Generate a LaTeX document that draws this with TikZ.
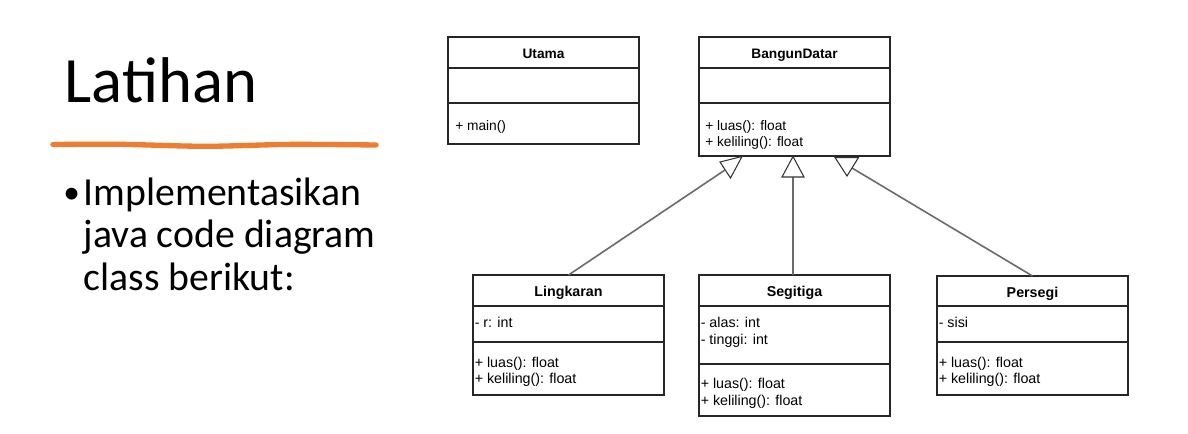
\documentclass[tikz,border=0pt]{standalone}
\usepackage{fontspec}
\setmainfont{Carlito}
\newfontfamily\umlfont{Liberation Sans}
\usetikzlibrary{calc}
\definecolor{officeorange}{HTML}{ED7D31}
\definecolor{edgegray}{HTML}{6B6B6B}
\begin{document}
\begin{tikzpicture}[x=0.75pt,y=-0.75pt,
  cbox/.style={draw=black!85, line width=0.8pt, fill=white, anchor=north west,
    minimum width=143.25pt, inner sep=0pt, outer sep=0pt},
  divider/.style={draw=black!85, line width=0.8pt},
  ttop/.style={font=\umlfont\bfseries\fontsize{10.3}{12}\selectfont, anchor=base, inner sep=0pt},
  tbot/.style={font=\umlfont\bfseries\fontsize{10.7}{12}\selectfont, anchor=base, inner sep=0pt},
  ltop/.style={font=\umlfont\fontsize{10.3}{12}\selectfont, anchor=base west, inner sep=0pt},
  lbot/.style={font=\umlfont\fontsize{10.7}{12}\selectfont, anchor=base west, inner sep=0pt},
  bodytext/.style={anchor=base west, inner sep=0pt, font=\fontsize{29.8}{34}\selectfont},
  gen/.style={draw=edgegray, line width=1.2pt},
  tri/.style={draw=black!80, line width=0.8pt, fill=white, line join=miter},
  orangeline/.style={draw=officeorange, line width=4pt, line cap=round}
]
\useasboundingbox (0,0) rectangle (1188,433);
\fill[white] (0,0) rectangle (1188,433);

% left side text
\node[anchor=base west, inner sep=0pt, font=\fontsize{48.5}{58}\selectfont] (title) at (64.5,102) {Latihan};
\draw[orangeline] plot[smooth] coordinates {(53,144.5) (120,144.3) (205,146.3) (290,144.4) (376,145)};
\node[anchor=base west, inner sep=0pt, font=\fontsize{25}{30}\selectfont] (bullet) at (63,203) {•};
\node[bodytext] (body1) at (83.5,205) {Implementasikan};
\node[bodytext] (body2) at (83.5,247) {java code diagram};
\node[bodytext] (body3) at (83.5,290) {class berikut:};

% class boxes
\node[cbox, minimum height=80.25pt] (utama) at (448,37) {};
\draw[divider] (448,68) -- (639,68);
\draw[divider] (448,103) -- (639,103);
\node[ttop] (utamaT) at (543.5,58) {Utama};
\node[ltop] (utamaM) at (455,130) {+ main()};

\node[cbox, minimum height=89.25pt] (bangun) at (699,37) {};
\draw[divider] (699,68) -- (890,68);
\draw[divider] (699,103) -- (890,103);
\node[ttop] (bangunT) at (794.5,58) {BangunDatar};
\node[ltop] (bangunM1) at (705,130.5) {+ luas(): float};
\node[ltop] (bangunM2) at (705,146) {+ keliling(): float};

\node[cbox, minimum height=90pt] (ling) at (473,275) {};
\draw[divider] (473,306) -- (664,306);
\draw[divider] (473,342) -- (664,342);
\node[tbot] (lingT) at (568.5,296) {Lingkaran};
\node[lbot] (lingA) at (474.5,327) {- r: int};
\node[lbot] (lingM1) at (474.5,367) {+ luas(): float};
\node[lbot] (lingM2) at (474.5,383.5) {+ keliling(): float};

\node[cbox, minimum height=105.75pt] (seg) at (699,275) {};
\draw[divider] (699,306) -- (890,306);
\draw[divider] (699,364) -- (890,364);
\node[tbot] (segT) at (794.5,296) {Segitiga};
\node[lbot] (segA1) at (700.5,327) {- alas: int};
\node[lbot] (segA2) at (700.5,344) {- tinggi: int};
\node[lbot] (segM1) at (700.5,388) {+ luas(): float};
\node[lbot] (segM2) at (700.5,405) {+ keliling(): float};

\node[cbox, minimum height=89.25pt] (persegi) at (937,276) {};
\draw[divider] (937,306) -- (1128,306);
\draw[divider] (937,342) -- (1128,342);
\node[tbot] (persegiT) at (1032.5,297) {Persegi};
\node[lbot] (persegiA) at (938.5,327) {- sisi};
\node[lbot] (persegiM1) at (938.5,367) {+ luas(): float};
\node[lbot] (persegiM2) at (938.5,383.5) {+ keliling(): float};

% generalisation connectors
\coordinate (lend) at (725,170);
\coordinate (mend) at (793,177);
\coordinate (rend) at (852,168);
\draw[gen] (ling.north) -- (lend);
\draw[gen] (seg.north -| mend) -- (mend);
\draw[gen] (persegi.north) -- (rend);

% hollow triangles
\draw[tri] (720,162) -- (742,156.5) -- (730.5,178) -- cycle;
\draw[tri] (793,156.5) -- (804,177) -- (782,177) -- cycle;
\draw[tri] (835,157.5) -- (858.5,157.5) -- (847,176) -- cycle;
\end{tikzpicture}
\end{document}
